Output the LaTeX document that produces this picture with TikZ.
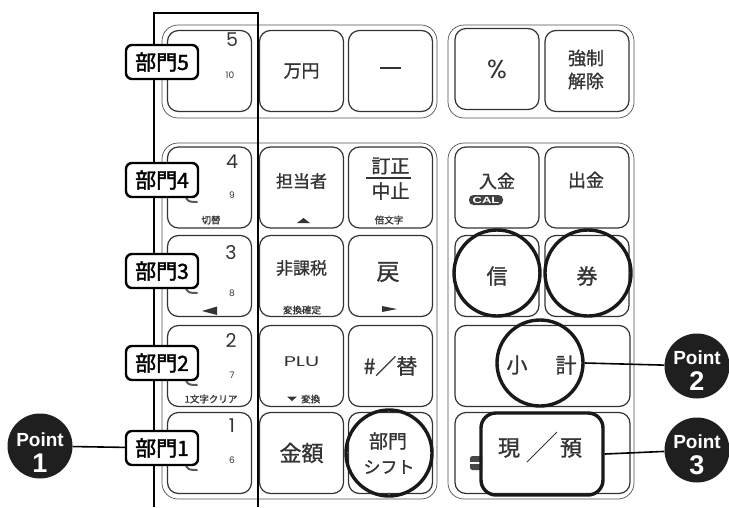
\documentclass[tikz,border=0pt]{standalone}
\usepackage{fontspec}
\setmainfont{Liberation Sans}
\newfontfamily\jpfont[FakeBold=1.1]{Noto Sans CJK JP}
\newfontfamily\jpbold[FakeBold=1.8]{Noto Sans CJK JP}
\newfontfamily\geofont{Poppins}
\usetikzlibrary{arrows.meta,positioning,calc}
\definecolor{keyink}{RGB}{52,52,52}
\definecolor{grpline}{RGB}{80,80,80}
\newcommand{\fs}[1]{\fontsize{#1}{#1}\selectfont}

\begin{document}
\begin{tikzpicture}[x=1pt, y=-1pt,
  grp/.style={draw=grpline, line width=0.7pt, rounded corners=16pt},
  key/.style={draw=black!80, line width=1.2pt, fill=white, rounded corners=11pt,
              minimum width=84pt, minimum height=81pt, inner sep=0pt,
              text=keyink, font=\jpfont\fs{18}, align=center},
  widekey/.style={key, minimum width=175pt},
  keytxt/.style={text=keyink, font=\jpfont\fs{17}, inner sep=0pt},
  bigtxt/.style={keytxt, font=\jpfont\fs{21}},
  dig/.style={text=keyink, font=\geofont\fs{19}, inner sep=0pt},
  smalldig/.style={text=keyink, font=\geofont\fs{9}, inner sep=0pt},
  subtxt/.style={text=keyink, font=\jpfont\fs{9.5}, inner sep=0pt},
  tri/.style={fill=keyink},
  shadowmark/.style={draw=black!65, line width=2pt, line cap=round},
  deptlab/.style={draw=black, line width=2.4pt, fill=white, rounded corners=6pt,
                  minimum width=72pt, minimum height=34pt, inner sep=1pt, font=\jpbold\fs{21}},
  ring/.style={circle, draw=black!90, line width=3.4pt, minimum size=86pt, inner sep=0pt},
  pointmark/.style={circle, fill=black!88, minimum size=65pt, inner sep=0pt},
  pointword/.style={text=white, anchor=base, inner sep=0pt, font=\bfseries\fs{19}},
  pointnum/.style={text=white, anchor=base, inner sep=0pt, font=\bfseries\fs{27}},
  lead/.style={draw=black, line width=1.6pt},
  frameline/.style={draw=black, line width=1.8pt},
]
\useasboundingbox (0,0) rectangle (729,507);

% ============================================================
% key grid
% ============================================================
\def\ca{209.5}\def\cb{301.5}\def\cc{390.5}\def\cd{497}\def\ce{587}
\def\ra{71}\def\rb{187.5}\def\rc{276}\def\rd{366}\def\re{453}

% groups
\draw[grp] (162,25) rectangle (437,118);
\draw[grp] (448,25) rectangle (634,118);
\draw[grp] (162,143) rectangle (437,499);
\draw[grp] (448,143) rectangle (634,499);

% left column (department keys)
\node[key] (k5) at (\ca,\ra) {};
\node[key] (k4) at (\ca,\rb) {};
\node[key] (k3) at (\ca,\rc) {};
\node[key] (k2) at (\ca,\rd) {};
\node[key] (k1) at (\ca,\re) {};

\node[dig] (d5) at (232,40) {5};   \node[smalldig] (e5) at (230,75) {10};
\node[dig] (d4) at (232,162) {4};  \node[smalldig] (e4) at (232,195) {9};
\node[dig] (d3) at (231,253) {3};  \node[smalldig] (e3) at (232,293) {8};
\node[dig] (d2) at (231,341) {2};  \node[smalldig] (e2) at (232,375) {7};
\node[dig] (d1) at (232,426) {1};  \node[smalldig] (e1) at (232,460) {6};
\node[subtxt] (s4) at (211,220) {切替};
\node[subtxt] (s2) at (211,399) {1文字クリア};
\fill[tri] (202,311) -- (217,306.5) -- (217,315) -- cycle;

% middle columns
\node[key] (man)   at (\cb,\ra) {万円};
\node[key] (minus) at (\cc,\ra) {};
\draw[keyink, line width=2.2pt] (380,68) -- (401,68);

\node[key] (tanto) at (\cb,\rb) {};
\node[keytxt] (tantot) at (\cb,181) {担当者};
\fill[tri] (297,223) -- (310,223) -- (303.5,218) -- cycle;
\node[key] (teisei) at (\cc,\rb) {};
\node[keytxt, font=\jpfont\fs{19}] (teit) at (\cc,166) {訂正};
\node[keytxt, font=\jpfont\fs{19}] (chut) at (\cc,191) {中止};
\draw[keyink, line width=1.4pt] (366,178) -- (411,178);
\node[subtxt] (bai) at (389,220) {倍文字};

\node[key] (hika) at (\cb,\rc) {};
\node[keytxt] (hikat) at (\cb,268) {非課税};
\node[subtxt] (henk) at (302,310) {変換確定};
\node[key] (modo) at (\cc,\rc) {};
\node[bigtxt, font=\jpfont\fs{23}] (modot) at (388,272) {戻};
\fill[tri] (382,306) -- (397,309) -- (382,312) -- cycle;

\node[key] (plu) at (\cb,\rd) {};
\node[keytxt, font=\geofont\fs{14}] (plut) at (\cb,362) {\scalebox{1.5}[1]{PLU}};
\fill[tri] (287,396.5) -- (297,396.5) -- (292,401) -- cycle;
\node[subtxt, anchor=west] (hen2) at (301,399) {変換};
\node[key, font=\jpfont\fs{21}] (kae) at (\cc,\rd) {\#／替};

\node[key, font=\jpfont\fs{22}] (kin) at (\cb,\re) {金額};
\node[key] (shift) at (\cc,\re) {};
\node[keytxt, font=\jpfont\fs{19}] (shiftt) at (388,441) {部門};
\node[keytxt] (shiftb) at (389,467) {シフト};

% right block
\node[key, font=\geofont\fs{26}] (pct) at (\cd,69) {\%};
\node[key] (kyo) at (\ce,\ra) {};
\node[keytxt, font=\jpfont\fs{18}] (kyot) at (586,58) {強制};
\node[keytxt, font=\jpfont\fs{18}] (kyob) at (586,81) {解除};

\node[key] (nyu) at (\cd,\rb) {};
\node[keytxt, font=\jpfont\fs{18}] (nyut) at (497,181) {入金};
\node[fill=black!75, text=white, rounded corners=4.5pt, inner sep=0pt,
      minimum width=34pt, minimum height=10pt, font=\bfseries\fs{9}] (cal) at (486,200)
      {\scalebox{1.45}[1]{CAL}};
\node[key] (shutsu) at (\ce,\rb) {};
\node[keytxt, font=\jpfont\fs{18}] (shutsut) at (586,180) {出金};

\node[key, font=\jpfont\fs{21}] (shin) at (\cd,\rc) {信};
\node[key, font=\jpfont\fs{21}] (ken)  at (\ce,\rc) {券};

\node[widekey] (shokei) at (542.5,\rd) {};
\node[bigtxt] (sho) at (517,365) {小};
\node[bigtxt] (kei) at (566,365) {計};
\node[widekey] (genyo) at (542.5,\re) {};
\node[fill=black!72, rounded corners=2.5pt, minimum width=12pt, minimum height=14pt, inner sep=0pt] (icon) at (476,463) {};
\draw[white, line width=1.3pt] (470,463) -- (481,463);
\node[bigtxt, font=\jpfont\fs{22}] (gen) at (509,448) {現};
\node[bigtxt, font=\jpfont\fs{22}] (yo)  at (571,448) {預};
\draw[keyink, line width=0.8pt] (527,462) -- (557,432);

% ============================================================
% frame and department labels
% ============================================================
\draw[frameline] (154,507) -- (154,13) -- (258,13) -- (258,507);

\foreach \y in {198,289,381,466}
  \draw[shadowmark] (186,\y-3) .. controls (186,\y+4) and (190,\y+4) .. (197,\y+4);

\node[deptlab] (lab5) at (162,62)  {部門5};
\node[deptlab] (lab4) at (162,180) {部門4};
\node[deptlab] (lab3) at (162,271) {部門3};
\node[deptlab] (lab2) at (162,363) {部門2};
\node[deptlab] (lab1) at (162,448) {部門1};

% ============================================================
% highlight rings
% ============================================================
\node[ring] (rshin)  at (497,273) {};
\node[ring] (rken)   at (588,273) {};
\node[ring] (rsho)   at (540,363) {};
\node[ring] (rshift) at (389,453) {};
\node[draw=black!90, line width=3.4pt, rounded corners=15pt, minimum width=122pt,
      minimum height=82pt] (rgen) at (542,454) {};

% ============================================================
% points
% ============================================================
\node[pointmark] (p1) at (40,446) {};
\node[pointword] (p1w) at (40,446) {Point};
\node[pointnum]  (p1n) at (40,472) {1};
\node[pointmark] (p2) at (697,366) {};
\node[pointword] (p2w) at (697,364) {Point};
\node[pointnum]  (p2n) at (697,390) {2};
\node[pointmark] (p3) at (697,450) {};
\node[pointword] (p3w) at (697,448) {Point};
\node[pointnum]  (p3n) at (697,474) {3};

\draw[lead] (p1) -- (lab1);
\draw[lead] (rsho.east) -- (p2);
\draw[lead] (rgen.east) -- (p3);

\end{tikzpicture}
\end{document}
